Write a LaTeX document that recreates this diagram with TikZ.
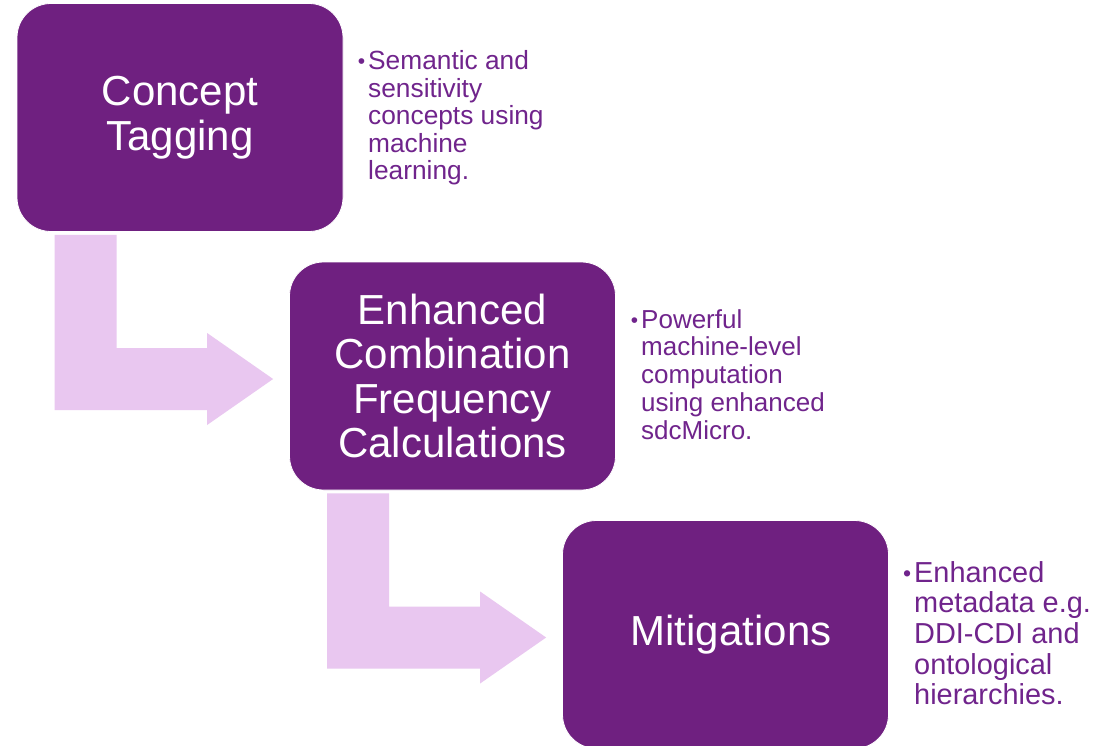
\documentclass[tikz,border=0pt]{standalone}
\usepackage{fontspec}
\setmainfont{Liberation Sans}
\usetikzlibrary{calc}
\definecolor{boxfill}{RGB}{111,32,128}
\definecolor{arrowfill}{RGB}{233,199,240}
\definecolor{notetext}{RGB}{112,36,140}
\tikzset{
  stage/.style={fill=boxfill, draw=white, line width=0.8pt, rounded corners=34pt,
    minimum width=326pt, minimum height=228pt, align=center, text=white, inner sep=0pt,
    font=\fontsize{42pt}{44.5pt}\selectfont},
  note/.style={anchor=base west, inner sep=0pt, text=notetext},
  bentarrow/.style={fill=arrowfill, draw=none}
}
% bent arrow from below stage #1 to the left side of stage #2
\newcommand{\bentflow}[3]{%
  \coordinate (#3s) at ($(#1.south west)+(38,3)$);
  \coordinate (#3t) at ($(#2.west)+(-16,3)$);
  \path[bentarrow] (#3s) -- ++(62,0) |- ($(#3t)+(-66,-31)$) -- ++(0,-15)
    -- (#3t) -- ($(#3t)+(-66,46)$) -- ++(0,-15) -| (#3s) -- cycle;
}
% bulleted note: hanging bullet, then the lines of text
\newcommand{\notelines}[3]{\parbox[t]{240pt}{\fontsize{#1}{#2}\selectfont\leavevmode
  \llap{\raisebox{1pt}{\scalebox{0.8}{\textbullet}}\hspace{3pt}}#3}}
\begin{document}
\begin{tikzpicture}[x=1pt, y=-1pt]
  \useasboundingbox (0,0) rectangle (1099,746);
  \fill[white] (0,0) rectangle (1099,746);

  % process stages
  \node[stage] (tag) at (180,117.5) {Concept\\Tagging};
  \node[stage] (freq) at (452.5,376) {Enhanced\\Combination\\Frequency\\Calculations};
  \node[stage] (mit) at (725.5,634.5) {\hspace*{11pt}Mitigations};

  % flow arrows between the stages
  \bentflow{tag}{freq}{ab}
  \bentflow{freq}{mit}{bc}

  % side notes
  \node[note] (n1) at (368,70) {\notelines{26.3pt}{27.5pt}{Semantic and\\sensitivity\\concepts using\\machine\\learning.}};
  \node[note] (n2) at (641,328) {\notelines{26pt}{27.8pt}{Powerful\\machine-level\\computation\\using enhanced\\sdcMicro.}};
  \node[note] (n3) at (914,582) {\notelines{28.9pt}{30.7pt}{Enhanced\\metadata e.g.\\DDI-CDI and\\ontological\\hierarchies.}};
\end{tikzpicture}
\end{document}
